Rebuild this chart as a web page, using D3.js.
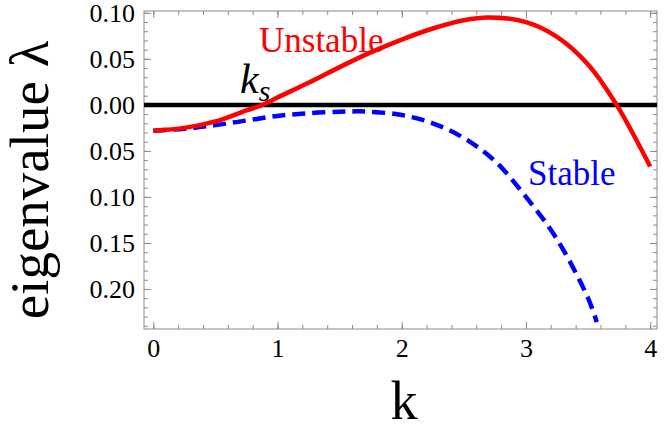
<!DOCTYPE html>
<html>
<head>
<meta charset="utf-8">
<script src="https://cdn.jsdelivr.net/npm/d3@7"></script>
<style>
  body { margin: 0; background: #fff; }
  svg { display: block; }
  svg text { font-family: "Liberation Serif", "Times New Roman", serif; }
</style>
</head>
<body>
<svg></svg>
<script>
let kUnstable = [0, 0.25, 0.5, 0.75, 0.88, 1.0, 1.25, 1.5, 1.75, 2.0, 2.25, 2.5, 2.7, 3.0, 3.25, 3.5, 3.73, 4.0]
let lamUnstable = [-0.028, -0.025, -0.018, -0.006, 0, 0.008, 0.024, 0.041, 0.057, 0.071, 0.083, 0.092, 0.095, 0.090, 0.074, 0.044, 0, -0.067]

let kStable = [0, 0.25, 0.5, 0.75, 1.0, 1.25, 1.5, 1.65, 1.75, 2.0, 2.25, 2.5, 2.75, 3.0, 3.25, 3.5, 3.57]
let lamStable = [-0.028, -0.026, -0.022, -0.017, -0.012, -0.009, -0.0075, -0.007, -0.0075, -0.011, -0.020, -0.036, -0.061, -0.100, -0.146, -0.210, -0.236]

let xTicks = [0, 1, 2, 3, 4]
let xTickLabels = ["0", "1", "2", "3", "4"]
let yTicks = [0.1, 0.05, 0, -0.05, -0.1, -0.15, -0.2]
let yTickLabels = ["0.10", "0.05", "0.00", "0.05", "0.10", "0.15", "0.20"]

const width = 664
const height = 432
const plotLeft = 144
const plotRight = 657
const plotTop = 11
const plotBottom = 329
const serif = '"Liberation Serif", "Times New Roman", serif'

const svg = d3.select('svg')
    .attr('width', width)
    .attr('height', height)

let xScale = d3.scaleLinear()
    .domain([-0.075, 4.055])
    .range([plotLeft, plotRight])

let yScale = d3.scaleLinear()
    .domain([-0.2435, 0.102])
    .range([plotBottom, plotTop])

let xMinor = d3.range(0, 21).map(i => i * 0.2)
let yMinor = d3.range(-24, 11).map(i => i / 100)

// frame
svg.append('rect')
    .attr('x', plotLeft)
    .attr('y', plotTop)
    .attr('width', plotRight - plotLeft)
    .attr('height', plotBottom - plotTop)
    .attr('fill', 'none')
    .attr('stroke', '#8a8a8a')
    .attr('stroke-width', 1)

let styleAxis = (g) => {
    g.select('.domain').remove()
    g.selectAll('line').attr('stroke', '#8a8a8a')
    g.attr('font-family', serif).attr('font-size', 26)
    g.selectAll('text').attr('fill', '#000')
}

// minor ticks, all four sides, pointing inward
svg.append('g').attr('transform', 'translate(0,' + plotBottom + ')')
    .call(d3.axisBottom(xScale).tickValues(xMinor).tickSize(-4).tickFormat(''))
    .call(styleAxis)
svg.append('g').attr('transform', 'translate(0,' + plotTop + ')')
    .call(d3.axisTop(xScale).tickValues(xMinor).tickSize(-4).tickFormat(''))
    .call(styleAxis)
svg.append('g').attr('transform', 'translate(' + plotLeft + ',0)')
    .call(d3.axisLeft(yScale).tickValues(yMinor).tickSize(-4).tickFormat(''))
    .call(styleAxis)
svg.append('g').attr('transform', 'translate(' + plotRight + ',0)')
    .call(d3.axisRight(yScale).tickValues(yMinor).tickSize(-4).tickFormat(''))
    .call(styleAxis)

// major ticks with labels
let xAxis = d3.axisBottom(xScale)
    .tickValues(xTicks)
    .tickSize(-7)
    .tickPadding(10)
    .tickFormat((d, i) => xTickLabels[i])
svg.append('g')
    .attr('id', 'x-axis')
    .attr('transform', 'translate(0,' + plotBottom + ')')
    .call(xAxis)
    .call(styleAxis)

let yAxis = d3.axisLeft(yScale)
    .tickValues(yTicks)
    .tickSize(-7)
    .tickPadding(9)
    .tickFormat((d, i) => yTickLabels[i])
svg.append('g')
    .attr('id', 'y-axis')
    .attr('transform', 'translate(' + plotLeft + ',0)')
    .call(yAxis)
    .call(styleAxis)

svg.append('g').attr('transform', 'translate(0,' + plotTop + ')')
    .call(d3.axisTop(xScale).tickValues(xTicks).tickSize(-7).tickFormat(''))
    .call(styleAxis)
svg.append('g').attr('transform', 'translate(' + plotRight + ',0)')
    .call(d3.axisRight(yScale).tickValues(yTicks).tickSize(-7).tickFormat(''))
    .call(styleAxis)

// zero line
svg.append('line')
    .attr('x1', plotLeft)
    .attr('x2', plotRight)
    .attr('y1', yScale(0))
    .attr('y2', yScale(0))
    .attr('stroke', '#000')
    .attr('stroke-width', 4.5)

let line = d3.line()
    .x(d => xScale(d[0]))
    .y(d => yScale(d[1]))
    .curve(d3.curveCatmullRom.alpha(0.5))

svg.append('path')
    .datum(kStable.map((k, i) => [k, lamStable[i]]))
    .attr('d', line)
    .attr('fill', 'none')
    .attr('stroke', '#0000ff')
    .attr('stroke-width', 4.5)
    .attr('stroke-dasharray', '13,7')

svg.append('path')
    .datum(kUnstable.map((k, i) => [k, lamUnstable[i]]))
    .attr('d', line)
    .attr('fill', 'none')
    .attr('stroke', '#ff0000')
    .attr('stroke-width', 4.5)

// annotations
svg.append('text')
    .attr('x', 259)
    .attr('y', 52)
    .attr('fill', '#ff0000')
    .attr('font-size', 35)
    .text('Unstable')

svg.append('text')
    .attr('x', 528)
    .attr('y', 185)
    .attr('fill', '#0000ff')
    .attr('font-size', 35)
    .text('Stable')

let ks = svg.append('text')
    .attr('x', 240)
    .attr('y', 93)
    .attr('fill', '#000')
    .attr('font-family', serif)
    .attr('font-size', 42)
    .attr('font-style', 'italic')
ks.append('tspan').text('k')
ks.append('tspan').attr('dy', 8).attr('font-size', 30).text('s')

// axis titles
svg.append('text')
    .attr('x', 404)
    .attr('y', 419)
    .attr('text-anchor', 'middle')
    .attr('font-size', 54)
    .text('k')

svg.append('text')
    .attr('transform', 'translate(48,180) rotate(-90)')
    .attr('text-anchor', 'middle')
    .attr('font-size', 55)
    .text('eigenvalue λ')
</script>
</body>
</html>
